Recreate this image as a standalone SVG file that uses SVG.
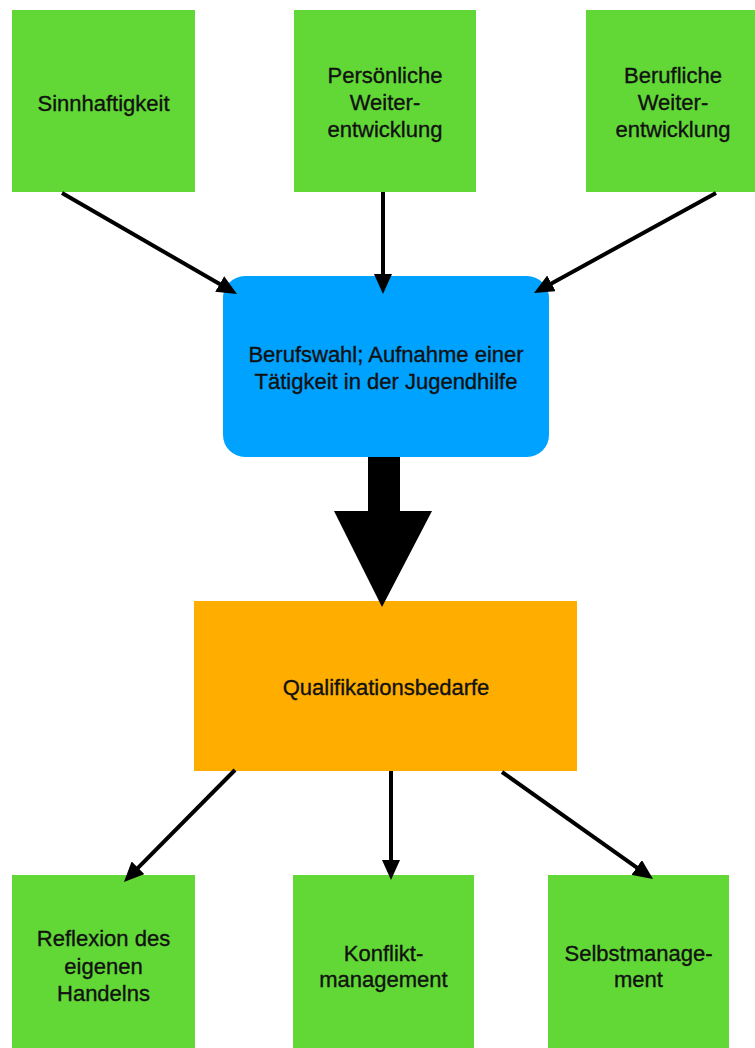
<svg xmlns="http://www.w3.org/2000/svg" width="755" height="1048" viewBox="0 0 755 1048">
  <style>
    .green { fill: #61D836; }
    .blue { fill: #00A2FF; }
    .orange { fill: #FFAE00; }
    .lbl { font-family: "Liberation Sans", Arial, sans-serif; font-size: 22px; fill: #111; stroke: #111; stroke-width: 0.35; text-anchor: middle; }
    .conn { stroke: #000; stroke-width: 4; fill: none; }
  </style>
  <defs>
    <marker id="ah" viewBox="0 0 20 18" markerWidth="20" markerHeight="18" refX="11" refY="9" orient="auto" markerUnits="userSpaceOnUse">
      <path d="M0,0 L20,9 L0,18 z" fill="#000"/>
    </marker>
  </defs>
  <rect width="755" height="1048" fill="#fff"/>

  <g id="node-sinnhaftigkeit">
    <rect class="green" x="12" y="10" width="183" height="182"/>
    <text class="lbl" x="103.5" y="111">Sinnhaftigkeit</text>
  </g>
  <g id="node-persoenliche">
    <rect class="green" x="294" y="10" width="182" height="182"/>
    <text class="lbl" x="385" y="83">Persönliche</text>
    <text class="lbl" x="385" y="110">Weiter-</text>
    <text class="lbl" x="385" y="137">entwicklung</text>
  </g>
  <g id="node-berufliche">
    <rect class="green" x="586" y="10" width="183" height="182"/>
    <text class="lbl" x="673" y="83">Berufliche</text>
    <text class="lbl" x="673" y="110">Weiter-</text>
    <text class="lbl" x="673" y="137">entwicklung</text>
  </g>
  <g id="node-berufswahl">
    <rect class="blue" x="223" y="276" width="326" height="181" rx="22" ry="22"/>
    <text class="lbl" x="386" y="362">Berufswahl; Aufnahme einer</text>
    <text class="lbl" x="386" y="389">Tätigkeit in der Jugendhilfe</text>
  </g>
  <g id="node-qualifikation">
    <rect class="orange" x="194" y="601" width="383" height="170"/>
    <text class="lbl" x="386" y="695">Qualifikationsbedarfe</text>
  </g>
  <g id="node-reflexion">
    <rect class="green" x="12" y="875" width="183" height="180"/>
    <text class="lbl" x="103.5" y="946">Reflexion des</text>
    <text class="lbl" x="103.5" y="973.5">eigenen</text>
    <text class="lbl" x="103.5" y="1001">Handelns</text>
  </g>
  <g id="node-konflikt">
    <rect class="green" x="293" y="875" width="181" height="180"/>
    <text class="lbl" x="383.5" y="960.5">Konflikt-</text>
    <text class="lbl" x="383.5" y="987">management</text>
  </g>
  <g id="node-selbst">
    <rect class="green" x="548" y="875" width="181" height="180"/>
    <text class="lbl" x="638.5" y="960.5">Selbstmanage-</text>
    <text class="lbl" x="638.5" y="987">ment</text>
  </g>

  <g id="connectors">
    <line class="conn" x1="62" y1="193" x2="229.2" y2="289.5" marker-end="url(#ah)"/>
    <line class="conn" x1="383" y1="192" x2="383" y2="285" marker-end="url(#ah)"/>
    <line class="conn" x1="716" y1="193" x2="541.9" y2="288.7" marker-end="url(#ah)"/>
    <polygon points="368,457 400,457 400,511 432,511 382,607 334,511 368,511" fill="#000"/>
    <line class="conn" x1="235" y1="770" x2="130.3" y2="875.6" marker-end="url(#ah)"/>
    <line class="conn" x1="391" y1="771" x2="391" y2="871" marker-end="url(#ah)"/>
    <line class="conn" x1="502" y1="772" x2="645.7" y2="873.8" marker-end="url(#ah)"/>
  </g>
</svg>
